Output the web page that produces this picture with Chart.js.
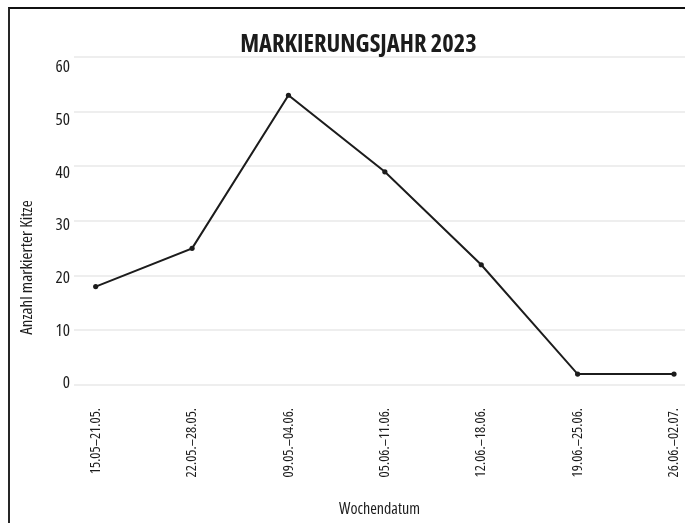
<!DOCTYPE html>
<html lang="de">
<head>
<meta charset="utf-8">
<title>Markierungsjahr 2023</title>
<script src="https://cdn.jsdelivr.net/npm/chart.js@4.4.1/dist/chart.umd.min.js"></script>
<style>
  html, body { margin: 0; padding: 0; background: #fff; }
  #wrap { position: relative; width: 685px; height: 523px; overflow: hidden; background: #fff; }
  #wrap canvas { position: absolute; left: 0; top: 0; }
  /* open frame: left and top rules only */
  #frame {
    position: absolute; left: 8px; top: 7px; width: 720px; height: 560px;
    border-left: 2px solid #262626; border-top: 2px solid #111;
    pointer-events: none;
  }
</style>
</head>
<body>
<div id="wrap">
  <canvas id="chart" width="685" height="523"></canvas>
  <div id="frame"></div>
</div>
<script>
// Weekly counts of marked fawns
const weeks = ['15.05–21.05.', '22.05.–28.05.', '09.05.–04.06.', '05.06.–11.06.', '12.06.–18.06.', '19.06.–25.06.', '26.06.–02.07.'];
const counts = [18, 25, 53, 39, 22, 2, 2];
const yTicks = [0, 10, 20, 30, 40, 50, 60];

const chartTitle = 'MARKIERUNGSJAHR 2023';
const xTitle = 'Wochendatum';
const yTitle = 'Anzahl markierter Kitze';

// Open Sans is variable in width; "condensed" goes into the canvas font string
const FAMILY = "'Open Sans', 'DejaVu Sans Condensed', sans-serif";
const NARROW = 'condensed';
const INK = '#1c1c1c';

// vertical axis caption, centred in the framed panel
const yTitlePlugin = {
  id: 'yCaption',
  afterDraw(chart) {
    const ctx = chart.ctx;
    ctx.save();
    ctx.translate(27.5, (8 + chart.height) / 2 + 2);
    ctx.rotate(-Math.PI / 2);
    ctx.font = `${NARROW} 17px ${FAMILY}`;
    ctx.fillStyle = INK;
    ctx.textAlign = 'center';
    ctx.textBaseline = 'middle';
    ctx.fillText(yTitle, 0, 0);
    ctx.restore();
  }
};

const points = counts.map((v, i) => ({ x: i, y: v }));

new Chart(document.getElementById('chart'), {
  type: 'line',
  data: {
    datasets: [{
      data: points,
      borderColor: INK,
      borderWidth: 2,
      tension: 0,
      pointRadius: 2.6,
      pointBackgroundColor: INK,
      pointBorderColor: INK,
      pointBorderWidth: 0,
      fill: false
    }]
  },
  options: {
    responsive: false,
    animation: false,
    devicePixelRatio: 1,
    layout: { autoPadding: false, padding: { left: 32, right: 0, top: 0, bottom: 0 } },
    plugins: {
      legend: { display: false },
      tooltip: { enabled: false },
      title: {
        display: true,
        text: chartTitle,
        color: INK,
        font: { family: FAMILY, size: 24.5, weight: `bold ${NARROW}`, lineHeight: 1 },
        padding: { top: 32.5, bottom: 0 }
      }
    },
    scales: {
      x: {
        type: 'linear',
        min: -0.225,
        max: 6.114,
        grid: { display: false, drawTicks: false },
        border: { display: false },
        afterBuildTicks: (axis) => { axis.ticks = weeks.map((_, i) => ({ value: i })); },
        afterFit: (axis) => {
          axis.height = 138;
          axis.paddingLeft = 0;
          axis.paddingRight = 0;
        },
        ticks: {
          autoSkip: false,
          minRotation: 90,
          maxRotation: 90,
          padding: 23,
          color: INK,
          font: { family: FAMILY, size: 14.5, weight: NARROW },
          callback: (v) => weeks[v]
        },
        title: {
          display: true,
          text: xTitle,
          color: INK,
          font: { family: FAMILY, size: 16, weight: NARROW, lineHeight: 1.2 },
          padding: { top: 0, bottom: 4 }
        }
      },
      // value scale: carries the data and the horizontal rules
      y: {
        position: 'left',
        min: 0,
        max: 60,
        grid: { color: '#eeeeee', lineWidth: 2, drawTicks: false },
        border: { display: false },
        afterBuildTicks: (axis) => { axis.ticks = yTicks.map(v => ({ value: v })); },
        afterFit: (axis) => { axis.width = 0; },
        ticks: { display: false }
      },
      // label scale: tick numbers set slightly inside the rules
      yLabels: {
        position: 'left',
        min: -0.284,
        max: 61.99,
        grid: { display: false, drawTicks: false },
        border: { display: false },
        afterBuildTicks: (axis) => { axis.ticks = yTicks.map(v => ({ value: v })); },
        afterFit: (axis) => { axis.width = 42; },
        ticks: {
          padding: 4,
          color: INK,
          font: { family: FAMILY, size: 17, weight: NARROW }
        }
      }
    }
  },
  plugins: [yTitlePlugin]
});
</script>
</body>
</html>
